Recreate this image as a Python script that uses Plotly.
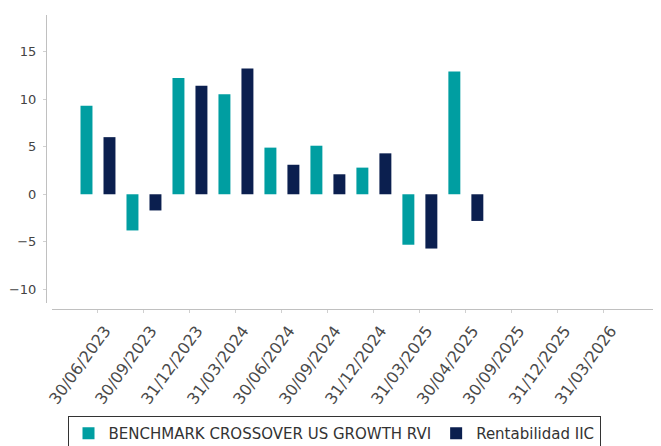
import plotly.graph_objects as go

categories = ["30/06/2023", "30/09/2023", "31/12/2023", "31/03/2024", "30/06/2024",
              "30/09/2024", "31/12/2024", "31/03/2025", "30/04/2025", "30/09/2025",
              "31/12/2025", "31/03/2026"]
benchmark = [9.3, -3.8, 12.2, 10.5, 4.9, 5.1, 2.8, -5.3, 12.9, None, None, None]
rentabilidad = [6.0, -1.7, 11.4, 13.2, 3.1, 2.1, 4.3, -5.7, -2.8, None, None, None]
yticks = [-10, -5, 0, 5, 10, 15]

TEAL = "#009ea1"
NAVY = "#0b1f4f"
FONT = "DejaVu Sans"

fig = go.Figure()
fig.add_trace(go.Bar(x=categories, y=benchmark, name="BENCHMARK CROSSOVER US GROWTH RVI",
                     marker=dict(color=TEAL, line=dict(width=0))))
fig.add_trace(go.Bar(x=categories, y=rentabilidad, name="Rentabilidad IIC",
                     marker=dict(color=NAVY, line=dict(width=0))))

# page has an 8px body margin; plot area on page: x 46..653, y 15..309
L, R, T, B = 38, 16, 7, 145
W = 661 - L - R
H = 446 - T - B
fig.update_layout(
    width=661, height=446,
    margin=dict(l=L, r=R, t=T, b=B, autoexpand=False),
    paper_bgcolor="white", plot_bgcolor="white",
    barmode="group", bargap=0, bargroupgap=0.48,
    font=dict(family=FONT, size=12, color="#444"),
    showlegend=True,
    legend=dict(orientation="h", x=(334 - 8 - L) / W, xanchor="center",
                y=(309 - 416) / H, yanchor="top",
                bordercolor="#333", borderwidth=1, font=dict(size=15, color="#333"),
                itemwidth=30, tracegroupgap=0),
    xaxis=dict(type="category", categoryorder="array", categoryarray=categories,
               range=[-1, 12.07], domain=[6 / W, 1], anchor="free", position=0,
               showline=True, linecolor="#c0c0c0", linewidth=1,
               ticks="outside", ticklen=3, tickcolor="#d0d0d0",
               tickangle=-54, ticklabelshift=7, ticklabelstandoff=2,
               tickfont=dict(size=16, color="#4a4a4a"),
               showgrid=False, zeroline=False),
    yaxis=dict(range=[-11.42, 18.83], domain=[6 / H, 1], anchor="free", position=0,
               tickvals=yticks, showline=True, linecolor="#c0c0c0", linewidth=1,
               ticks="outside", ticklen=3, tickcolor="#d0d0d0", ticklabelstandoff=4,
               tickfont=dict(size=13, color="#444"),
               showgrid=False, zeroline=False),
)

fig.write_html("out.html")
